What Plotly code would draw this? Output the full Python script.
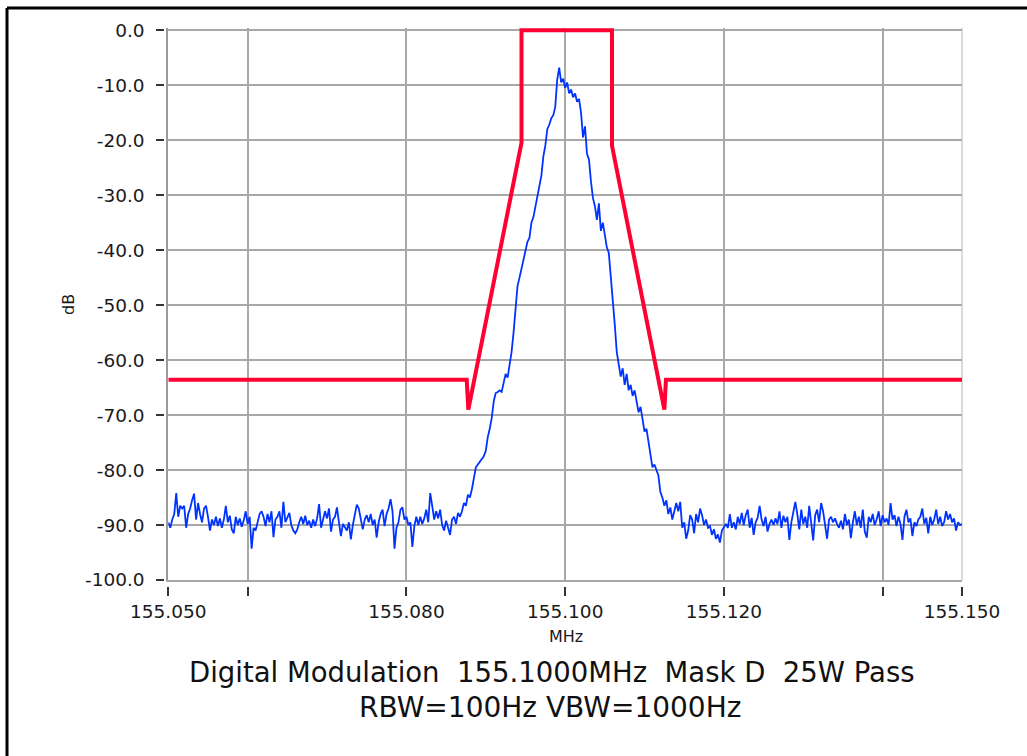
import numpy as np
import plotly.graph_objects as go

# ---------------- data ----------------
sweep_start_mhz = 155.050
sweep_step_mhz = 0.00025

noise_left_db = [
    -89.5, -90.5, -89, -88, -84.2, -88.5, -86.5, -87, -86.5, -90.5,
    -88, -87, -85.5, -84.3, -89, -86, -88, -89.5, -87, -86.5,
    -88.5, -91, -89, -90, -88.5, -90.2, -88.8, -90.5, -89, -86.5,
    -89.5, -88.3, -90.8, -91.5, -88.5, -90, -88.8, -90.3, -89.2, -87.5,
    -89.8, -88.5, -94.3, -90.5, -91, -89.5, -88, -87.5, -88.5, -90.2,
    -88, -89.5, -87.5, -92.2, -89, -88.5, -87.5, -90.5, -85.8, -89.5,
    -88.5, -87.8, -90, -91, -91.5, -90.8, -89.5, -88.5, -89.8, -88.3,
    -90, -89.2, -90.5, -89, -90.2, -88.8, -86.2, -90.5, -89, -87.5,
    -88.8, -87, -91.2, -89, -88.5, -86.8, -89.5, -92, -89.8, -90.5,
    -91, -89.5, -92.6, -90, -88, -86.3, -87, -89, -90.8, -89,
    -88.2, -89.5, -88, -90, -89, -92.3, -89.5, -88, -87.2, -90.2,
    -88, -87, -85.3, -87.5, -94.3, -90.5, -89.5, -87.2, -86.8, -89,
    -88.5, -90, -89.5, -94, -90.2, -88.5, -90, -88.5, -89.8, -88.8,
    -87.2, -89.5, -84.2, -86.5, -89, -87.5, -88.8, -87.2, -90, -91,
    -89.2, -90.5, -91.8, -89, -88.5, -89.8, -87.8, -88.5,
]

main_lobe_db = [
    -87.5, -86, -86.5, -84.5, -85, -83.5, -81.5, -79.5, -79, -78.5,
    -78, -77.5, -76.5, -74, -72.5, -70.5, -67.5, -66, -65.8, -65.5,
    -65.8, -64, -62.5, -63.2, -61, -58.5, -55, -50.5, -46.5, -45,
    -43.5, -42, -40, -38.5, -37.8, -35, -34, -32, -30, -28,
    -26.5, -23, -21, -18, -17.2, -16, -15.5, -14, -9, -6.8,
    -9.5, -8.8, -10.5, -9.5, -11.5, -10.8, -12.2, -11.5, -13, -12.5,
    -15, -19.5, -17.5, -22.5, -23.5, -27.5, -30.5, -32, -34.5, -31.5,
    -36.5, -35, -37.5, -39.5, -40.5, -44.5, -49, -53.5, -58.5, -60.5,
    -63, -61.5, -64.5, -62.5, -65.5, -64.5, -66.5, -65.5, -67.5, -69.5,
    -68.5, -71, -73, -72.5, -75, -77.5, -79.5, -79, -80, -81,
    -84, -85, -86.5, -85.5, -88, -86.8, -89, -87.5,
]

noise_right_db = [
    -86, -87.5, -85.8, -90.5, -89.5, -92.5, -91, -88.2, -89, -91.5,
    -88, -89.5, -87, -88.2, -90, -89, -90.5, -90.2, -91.8, -90.8,
    -92.5, -91.7, -93.2, -91, -90.5, -89.8, -90.5, -88, -90.5, -89.5,
    -90.8, -88.5, -89.8, -87.8, -90, -88.2, -87.2, -90.5, -88.7, -91.8,
    -89.5, -88.7, -86.5, -89, -90.2, -88.5, -91.2, -89.8, -89, -90,
    -88.8, -89.8, -87.5, -90.5, -88.3, -89.5, -88.5, -92.7, -89.5, -87.5,
    -85.8, -88, -90.8, -87.2, -89.8, -88.5, -90.5, -86.5, -89.5, -92.8,
    -88.2, -87.2, -89.5, -86, -87.5, -90.2, -92.5, -89, -88.5, -89.5,
    -88.8, -89.8, -90.5, -89.2, -90.8, -88, -90, -89, -92.4, -89.5,
    -87.5, -90, -88.5, -90.5, -87.2, -91.2, -92.3, -88.5, -89.5, -88,
    -90, -89, -87.5, -90.2, -88.2, -89.5, -88.8, -90, -86, -89,
    -88.2, -90.2, -88.5, -89.8, -92.7, -88.5, -87.2, -89.5, -88.8, -92,
    -89.5, -90.2, -89, -88.5, -87, -89.8, -88.7, -91.5, -88.5, -90,
    -89, -87.2, -89.8, -88.5, -90.2, -89.5, -87.5, -89, -88, -89.5,
    -88.8, -91, -89.5, -90, -89.8,
]

mask_freq_mhz = [155.050, 155.0876, 155.0878, 155.0945, 155.0945,
                 155.1059, 155.1059, 155.1125, 155.1127, 155.150]
mask_db = [-63.6, -63.6, -69.0, -20.5, 0.0, 0.0, -21.0, -69.0, -63.6, -63.6]

x_tick_vals = [155.05, 155.06, 155.08, 155.10, 155.12, 155.14, 155.15]
x_tick_text = ["155.050", "", "155.080", "155.100", "155.120", "", "155.150"]
y_tick_vals = [0, -10, -20, -30, -40, -50, -60, -70, -80, -90, -100]
y_tick_text = ["%.1f" % v for v in y_tick_vals]

title_line1 = "Digital Modulation  155.1000MHz  Mask D  25W Pass"
title_line2 = "RBW=100Hz VBW=1000Hz"

# ---------------- build ----------------
spectrum_db = noise_left_db + main_lobe_db + noise_right_db
freq_mhz = sweep_start_mhz + sweep_step_mhz * np.arange(len(spectrum_db))

X_RANGE = [155.05, 155.15]
Y_RANGE = [-100, 0.4]
FONT = "DejaVu Sans"
TXT = "#1a1a1a"
GRID = "#a8a8a8"

fig = go.Figure()
fig.add_trace(go.Scatter(x=freq_mhz, y=spectrum_db, mode="lines",
                         line=dict(color="#0033FF", width=1.8),
                         hoverinfo="skip", showlegend=False))
fig.add_trace(go.Scatter(x=mask_freq_mhz, y=mask_db, mode="lines",
                         line=dict(color="#FF0033", width=4),
                         cliponaxis=False, hoverinfo="skip", showlegend=False))
# invisible trace for detached tick axes
fig.add_trace(go.Scatter(x=[X_RANGE[0]], y=[Y_RANGE[0]], xaxis="x2", yaxis="y2",
                         mode="markers", marker=dict(opacity=0),
                         hoverinfo="skip", showlegend=False))

L, R, T, B = 150, 65, 28, 166
W, H = 1027, 756
pw = W - L - R
ph = H - T - B
x_dom0 = 18.3 / pw
y_dom0 = 10 / ph


def px_x(px):
    return (px - L) / pw


def px_y(py):
    return (H - B - py) / ph


fig.update_layout(
    width=W, height=H,
    margin=dict(l=L, r=R, t=T, b=B),
    paper_bgcolor="white", plot_bgcolor="white",
    font=dict(family=FONT, color=TXT, size=18.5),
    xaxis=dict(domain=[x_dom0, 1], range=X_RANGE, tickvals=x_tick_vals,
               ticktext=x_tick_text, ticks="", showgrid=True, gridcolor=GRID,
               gridwidth=2, showline=True, linecolor=GRID, linewidth=2,
               mirror=False, zeroline=False, ticklabelstandoff=14,
               tickfont=dict(size=18.5, color=TXT)),
    yaxis=dict(domain=[y_dom0, 1], range=Y_RANGE, tickvals=y_tick_vals,
               ticktext=y_tick_text, ticks="", showgrid=True, gridcolor=GRID,
               gridwidth=2, showline=True, linecolor="#9a9a9a", linewidth=2,
               mirror=False, zeroline=False, ticklabelstandoff=18,
               tickfont=dict(size=18.5, color=TXT)),
    xaxis2=dict(overlaying="x", anchor="free", position=px_y(586), side="bottom",
                domain=[x_dom0, 1], range=X_RANGE, tickvals=x_tick_vals,
                ticks="outside", ticklen=9, tickwidth=2, tickcolor="#333333",
                showticklabels=False, showgrid=False, showline=False, zeroline=False),
    yaxis2=dict(overlaying="y", anchor="free", position=px_x(164), side="left",
                domain=[y_dom0, 1], range=Y_RANGE, tickvals=y_tick_vals,
                ticks="outside", ticklen=8, tickwidth=2, tickcolor="#333333",
                showticklabels=False, showgrid=False, showline=False, zeroline=False),
    annotations=[
        dict(text="MHz", xref="paper", yref="paper", x=px_x(566), y=px_y(637),
             xanchor="center", yanchor="middle", showarrow=False,
             font=dict(size=16, color=TXT)),
        dict(text="dB", xref="paper", yref="paper", x=px_x(68), y=px_y(305),
             xanchor="center", yanchor="middle", showarrow=False, textangle=-90,
             font=dict(size=16, color=TXT)),
        dict(text=title_line1, xref="paper", yref="paper", x=px_x(552), y=px_y(672),
             xanchor="center", yanchor="middle", showarrow=False,
             font=dict(size=27.5, color="#111111")),
        dict(text=title_line2, xref="paper", yref="paper", x=px_x(550), y=px_y(707),
             xanchor="center", yanchor="middle", showarrow=False,
             font=dict(size=28, color="#111111")),
    ],
    shapes=[
        # plot frame: right light grey
        dict(type="line", xref="paper", yref="paper", x0=1, x1=1, y0=y_dom0, y1=1,
             line=dict(color="#dadada", width=2), layer="below"),
        # outer black border
        dict(type="line", xref="paper", yref="paper", x0=px_x(7), x1=px_x(7),
             y0=px_y(8), y1=px_y(770), line=dict(color="black", width=3)),
        dict(type="line", xref="paper", yref="paper", x0=px_x(7), x1=px_x(1040),
             y0=px_y(8), y1=px_y(8), line=dict(color="black", width=3)),
    ],
)

fig.write_html("out.html",
               config={"displayModeBar": False},
               post_script="document.body.style.margin='0';"
                           "document.body.style.overflow='hidden';")
